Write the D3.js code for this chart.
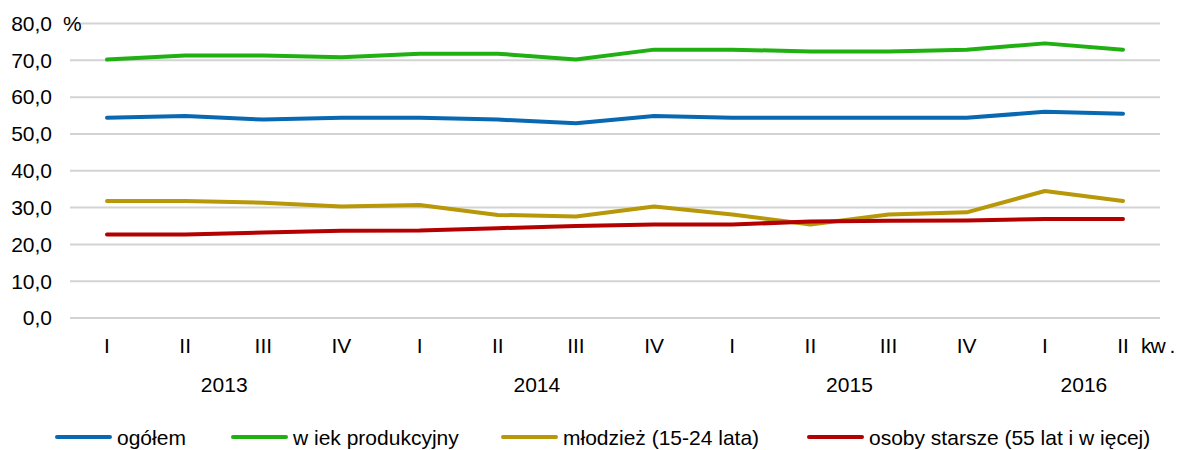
<!DOCTYPE html>
<html>
<head>
<meta charset="utf-8">
<script src="https://cdn.jsdelivr.net/npm/d3@7"></script>
<style>
  body { margin: 0; background: #fff; }
  svg text { font-family: "Liberation Sans", Arial, sans-serif; fill: #000; }
</style>
</head>
<body>
<div id="chart"></div>
<script>
// kwartały i lata
const quarters = ["I", "II", "III", "IV", "I", "II", "III", "IV", "I", "II", "III", "IV", "I", "II"];
const years = [
  { label: "2013", from: 0, to: 3 },
  { label: "2014", from: 4, to: 7 },
  { label: "2015", from: 8, to: 11 },
  { label: "2016", from: 12, to: 13 }
];
const yTicks = [0, 10, 20, 30, 40, 50, 60, 70, 80];

// wartości serii (%)
const ogolem = [54.4, 54.9, 53.9, 54.4, 54.4, 53.9, 52.9, 54.9, 54.4, 54.4, 54.4, 54.4, 56.0, 55.5];
const wiekProdukcyjny = [70.2, 71.3, 71.3, 70.8, 71.8, 71.8, 70.2, 72.9, 72.9, 72.4, 72.4, 72.9, 74.6, 72.9];
const mlodziez = [31.8, 31.8, 31.3, 30.3, 30.7, 28.0, 27.6, 30.3, 28.1, 25.4, 28.1, 28.7, 34.5, 31.8];
const starsi = [22.7, 22.7, 23.2, 23.7, 23.8, 24.4, 25.0, 25.4, 25.4, 26.2, 26.4, 26.5, 26.9, 26.9];

const series = [
  { name: "ogółem", values: ogolem, color: "#0868b2" },
  { name: "w iek produkcyjny", values: wiekProdukcyjny, color: "#20b012" },
  { name: "młodzież (15-24 lata)", values: mlodziez, color: "#b89708" },
  { name: "osoby starsze (55 lat i w ięcej)", values: starsi, color: "#b40000" }
];

const W = 1180, H = 450;
const FS = "21px";
const svg = d3.select("#chart").append("svg").attr("width", W).attr("height", H);

const x = d3.scalePoint().domain(d3.range(quarters.length)).range([107, 1123]);
const y = d3.scaleLinear().domain([0, 80]).range([318, 23.5]);

// siatka
svg.append("g").selectAll("line").data(yTicks).join("line")
  .attr("x1", 70).attr("x2", 1160)
  .attr("y1", d => y(d)).attr("y2", d => y(d))
  .attr("stroke", "#d3d3d3").attr("stroke-width", 2);

// oś Y
svg.append("g").selectAll("text").data(yTicks).join("text")
  .attr("x", 52).attr("y", d => y(d))
  .attr("dy", "0.35em").attr("text-anchor", "end")
  .style("font-size", FS)
  .text(d => d.toFixed(1).replace(".", ","));
svg.append("text").attr("x", 63).attr("y", y(80)).attr("dy", "0.35em")
  .style("font-size", FS).text("%");

// oś X - kwartały
svg.append("g").selectAll("text").data(quarters).join("text")
  .attr("x", (d, i) => x(i)).attr("y", 346).attr("dy", "0.35em")
  .attr("text-anchor", "middle").style("font-size", FS)
  .text(d => d);
svg.append("text").attr("x", 1141).attr("y", 346).attr("dy", "0.35em")
  .style("font-size", FS).style("letter-spacing", "-1px").text("kw .");

// lata
svg.append("g").selectAll("text").data(years).join("text")
  .attr("x", d => (x(d.from) + x(d.to)) / 2).attr("y", 385).attr("dy", "0.35em")
  .attr("text-anchor", "middle").style("font-size", FS)
  .text(d => d.label);

// linie
const line = d3.line().x((d, i) => x(i)).y(d => y(d));
svg.append("g").selectAll("path").data(series).join("path")
  .attr("d", d => line(d.values))
  .attr("fill", "none").attr("stroke", d => d.color)
  .attr("stroke-width", 4).attr("stroke-linejoin", "round").attr("stroke-linecap", "round");

// legenda
const legendX = [57, 233, 503, 809];
const lg = svg.append("g").selectAll("g").data(series).join("g")
  .attr("transform", (d, i) => `translate(${legendX[i]},437)`);
lg.append("line").attr("x1", 0).attr("x2", 53)
  .attr("stroke", d => d.color).attr("stroke-width", 4).attr("stroke-linecap", "round");
lg.append("text").attr("x", 60).attr("y", 1).attr("dy", "0.35em")
  .style("font-size", FS)
  .text(d => d.name);
</script>
</body>
</html>
